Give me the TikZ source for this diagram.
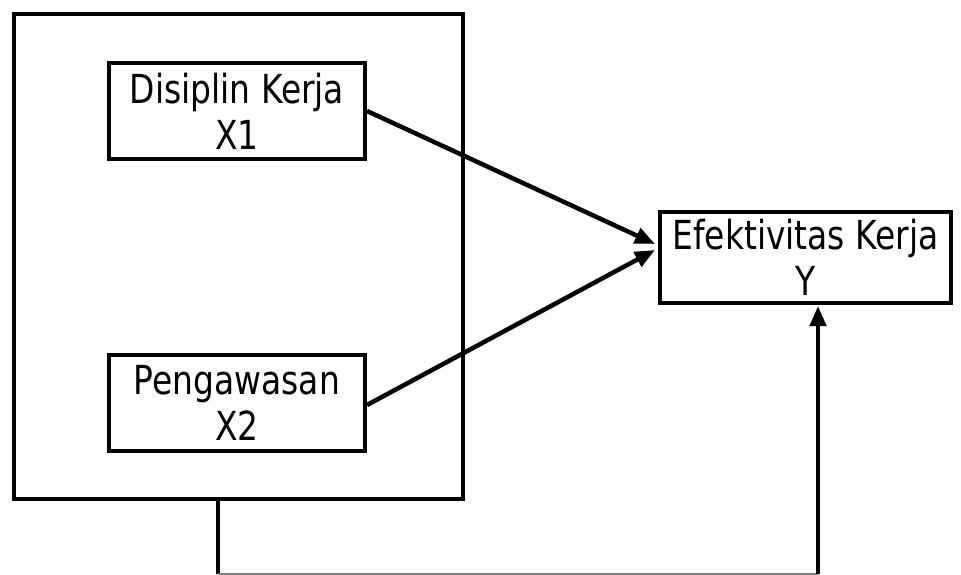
\documentclass[tikz,border=0pt]{standalone}
\usepackage{fontspec}
\setmainfont[FakeStretch=0.915]{DejaVu Sans Condensed}
\usetikzlibrary{arrows.meta}
\begin{document}
\begin{tikzpicture}[x=1pt,y=-1pt,
  boxline/.style={draw=black,line width=4.5pt},
  lbl/.style={font=\fontsize{40}{46}\selectfont,align=center,inner sep=0pt},
  conn/.style={line width=4.5pt,-{Triangle[length=20pt,width=16pt]}}]
\useasboundingbox (0,0) rectangle (961,574);
\draw[boxline] (14,14) rectangle (463,499);
\node[boxline,minimum width=256pt,minimum height=96pt,inner sep=0pt] (b1) at (237,111) {};
\node[lbl] (t1) at (b1.center) {Disiplin Kerja\\X1};
\node[boxline,minimum width=256pt,minimum height=96pt,inner sep=0pt] (b2) at (237,403) {};
\node[lbl] (t2) at (b2.center) {Pengawasan\\X2};
\node[boxline,minimum width=291pt,minimum height=91pt,inner sep=0pt] (by) at (805.5,257.5) {};
\node[lbl] (ty) at (by.center) {Efektivitas Kerja\\Y};
\coordinate (s1) at (367,111);
\coordinate (s2) at (367,405);
\coordinate (e1) at (655,244);
\coordinate (e2) at (655,250);
\draw[conn] (s1) -- (e1);
\draw[conn] (s2) -- (e2);
\coordinate (o) at (218,499);
\coordinate (ob) at (218,574);
\coordinate (yb) at (818,574);
\coordinate (ye) at (818,306);
\draw[line width=4.5pt] (o) -- (ob);
\draw[gray,line width=1.5pt] (ob) -- (yb);
\draw[conn] (yb) -- (ye);
\end{tikzpicture}
\end{document}
